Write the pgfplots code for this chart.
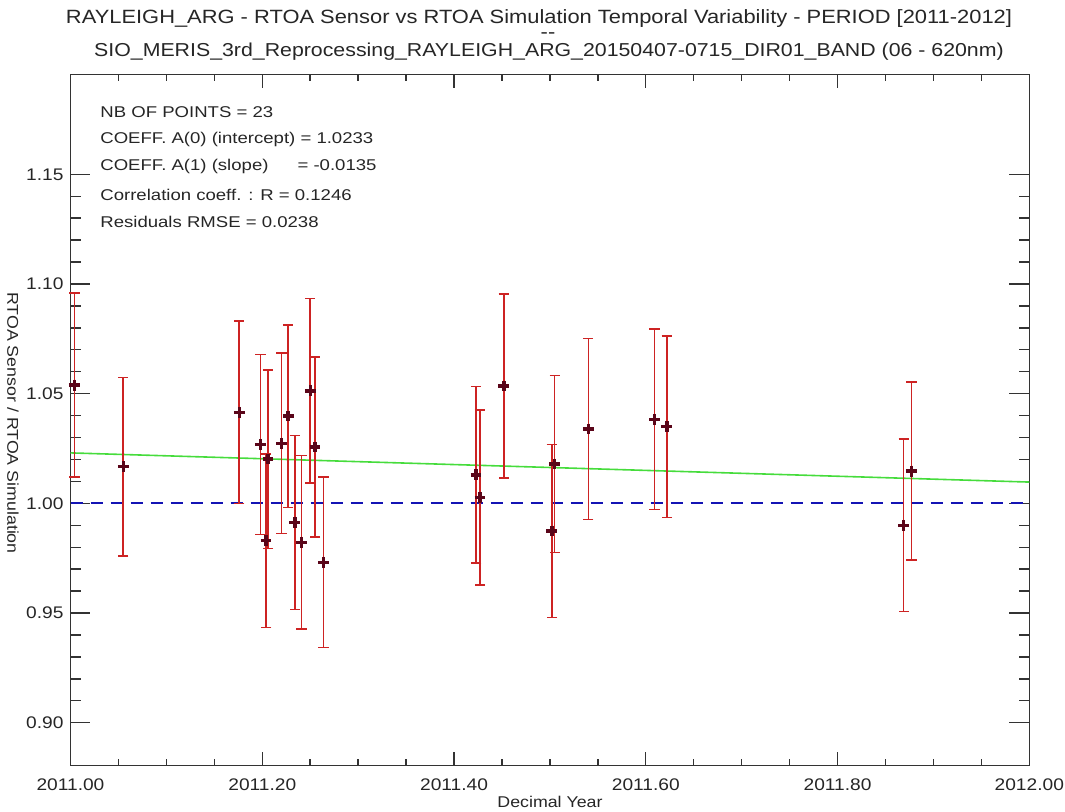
\documentclass[border=0pt]{standalone}
\usepackage{fontspec}
\setmainfont{Liberation Sans}
\newfontfamily\widefont[FakeStretch=1.14]{Liberation Sans}
\newfontfamily\notefont[FakeStretch=1.19]{Liberation Sans}
\usepackage{pgfplots}
\pgfplotsset{compat=1.18}
\usepackage{pgfplotstable}

\definecolor{errred}{RGB}{205,35,35}
\definecolor{markdark}{RGB}{90,5,25}
\definecolor{fitgreen}{RGB}{70,220,60}
\definecolor{refblue}{RGB}{20,20,180}

% decimal year, RTOA sensor / simulation, error
\pgfplotstableread{
x        y      e
2011.004 1.0539 0.0420
2011.055 1.0167 0.0406
2011.176 1.0415 0.0416
2011.198 1.0269 0.0410
2011.204 0.9830 0.0395
2011.206 1.0202 0.0407
2011.220 1.0274 0.0411
2011.227 1.0398 0.0416
2011.234 0.9912 0.0397
2011.241 0.9822 0.0395
2011.250 1.0513 0.0421
2011.255 1.0257 0.0410
2011.264 0.9731 0.0389
2011.423 1.0130 0.0403
2011.427 1.0026 0.0399
2011.452 1.0535 0.0419
2011.502 0.9874 0.0394
2011.505 1.0179 0.0404
2011.540 1.0339 0.0412
2011.609 1.0383 0.0412
2011.622 1.0349 0.0414
2011.869 0.9900 0.0394
2011.877 1.0147 0.0406
}\rtoa

\begin{document}
\begin{tikzpicture}
\useasboundingbox (0,0) rectangle (532.5pt,406pt);
\begin{axis}[
    at={(35.25pt,23.15pt)}, anchor=south west,
    scale only axis, width=479.4pt, height=345.7pt,
    xmin=2011, xmax=2012, ymin=0.8804, ymax=1.1956,
    xtick={2011,2011.2,2011.4,2011.6,2011.8,2012},
    xticklabels={2011.00,2011.20,2011.40,2011.60,2011.80,2012.00},
    ytick={0.90,0.95,1.00,1.05,1.10,1.15},
    yticklabels={0.90,0.95,1.00,1.05,1.10,1.15},
    minor x tick num=3, minor y tick num=4,
    tick align=inside, tick pos=both, ticklabel pos=left,
    xtick style={/pgfplots/major tick length=7pt,/pgfplots/minor tick length=3.5pt,line width=0.7pt,black!80},
    ytick style={/pgfplots/major tick length=10pt,/pgfplots/minor tick length=5.3pt,line width=0.7pt,black!80},
    axis line style={line width=0.7pt,black!80},
    tick label style={font=\widefont\fontsize{8.4}{10}\selectfont,text=black!85},
    xticklabel style={yshift=-3pt},
    clip=false,
]
% reference ratio = 1
\addplot[color=refblue, line width=0.9pt, dash pattern=on 6pt off 4pt] coordinates {(2011,1.0) (2012,1.0)};
% linear fit
\addplot[color=fitgreen, line width=0.8pt] coordinates {(2011,1.0230) (2012,1.0097)};
% error bars
\addplot[draw=none, mark=none,
    error bars/.cd, y dir=both, y explicit,
    error bar style={errred, line width=0.75pt},
    error mark options={errred, rotate=90, mark size=2.6pt, line width=0.75pt},
] table[x=x, y=y, y error=e] {\rtoa};
% observations
\addplot[only marks, mark=+, mark size=2.7pt, line width=1.7pt, color=markdark] table[x=x, y=y] {\rtoa};
\end{axis}

\begin{scope}[every node/.style={inner sep=0pt, font=\widefont\fontsize{9.6}{11}\selectfont, text=black!85}]
\node at (269.5pt,396.5pt) {RAYLEIGH\_ARG - RTOA Sensor vs RTOA Simulation Temporal Variability - PERIOD [2011-2012]};
\node at (274pt,388pt) {{-}{-}};
\node[font=\widefont\fontsize{9.35}{11}\selectfont] at (274.5pt,380pt) {SIO\_MERIS\_3rd\_Reprocessing\_RAYLEIGH\_ARG\_20150407-0715\_DIR01\_BAND (06 - 620nm)};
\end{scope}

\begin{scope}[every node/.style={anchor=west, inner sep=0pt, font=\notefont\fontsize{7.8}{9}\selectfont, text=black!85}]
\node at (50pt,350.15pt) {NB OF POINTS = 23};
\node at (50pt,336.5pt) {COEFF. A(0) (intercept) = 1.0233};
\node at (50pt,322.65pt) {COEFF. A(1) (slope) \hspace{1.2em} = -0.0135};
\node at (50pt,308.5pt) {Correlation coeff. : R = 0.1246};
\node at (50pt,295pt) {Residuals RMSE = 0.0238};
\end{scope}

\node[font=\widefont\fontsize{7.8}{9}\selectfont, text=black!85] at (275pt,5pt) {Decimal Year};
\node[font=\widefont\fontsize{7.8}{9}\selectfont, text=black!85, rotate=-90] at (6.5pt,194.5pt) {RTOA Sensor / RTOA Simulation};
\end{tikzpicture}
\end{document}
